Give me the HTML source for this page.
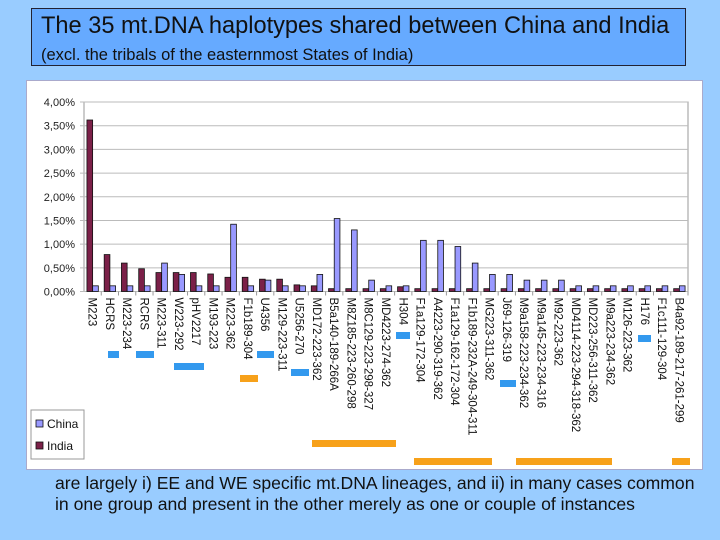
<!DOCTYPE html>
<html><head><meta charset="utf-8">
<style>
body{margin:0;width:720px;height:540px;background:#99CCFF;position:relative;overflow:hidden;font-family:"Liberation Sans",sans-serif}
#title{position:absolute;left:31px;top:8px;width:655px;height:58px;background:#66AAFF;border:1px solid #223;box-sizing:border-box}
#title .t1{position:absolute;left:9px;top:4px;font-size:23.6px;color:#111;white-space:nowrap}
#title .t2{position:absolute;left:9px;top:37px;font-size:16.5px;color:#111;white-space:nowrap}
#chart{position:absolute;left:26px;top:80px;width:675px;height:388px;background:#fff;border:1px solid #aac}
.foot{position:absolute;left:55px;font-size:17.6px;color:#111;white-space:nowrap}
</style></head><body>
<div id="title">
<div class="t1">The 35 mt.DNA haplotypes shared between China and India</div>
<div class="t2">(excl. the tribals of the easternmost States of India)</div>
</div>
<div id="chart"></div>
<svg id="svg" width="720" height="540" style="position:absolute;left:0;top:0"></svg>
<div class="foot" style="top:473px">are largely i) EE and WE specific mt.DNA lineages, and ii) in many cases common</div>
<div class="foot" style="top:494px">in one group and present in the other merely as one or couple of instances</div>
<script>
const categories=["M223","HCRS","M223-234","RCRS","M223-311","W223-292","pHV2217","M193-223","M223-362","F1b189-304","U4356","M129-223-311","U5256-270","MD172-223-362","B5a140-189-266A","M8Z185-223-260-298","M8C129-223-298-327","MD4223-274-362","H304","F1a129-172-304","A4223-290-319-362","F1a129-162-172-304","F1b189-232A-249-304-311","MG223-311-362","J69-126-319","M9a158-223-234-362","M9a145-223-234-316","M92-223-362","MD4114-223-294-318-362","MD223-256-311-362","M9a223-234-362","M126-223-362","H176","F1c111-129-304","B4a92-189-217-261-299"];
const india=[3.62,0.78,0.6,0.48,0.4,0.4,0.4,0.37,0.3,0.3,0.26,0.26,0.14,0.12,0.06,0.06,0.06,0.06,0.1,0.06,0.06,0.06,0.06,0.06,0.06,0.06,0.06,0.06,0.06,0.06,0.06,0.06,0.06,0.06,0.06];
const china=[0.12,0.12,0.12,0.12,0.6,0.36,0.12,0.12,1.42,0.12,0.24,0.12,0.12,0.36,1.54,1.3,0.24,0.12,0.12,1.08,1.08,0.95,0.6,0.36,0.36,0.24,0.24,0.24,0.12,0.12,0.12,0.12,0.12,0.12,0.12];
const ticks=["0,00%","0,50%","1,00%","1,50%","2,00%","2,50%","3,00%","3,50%","4,00%"];
const svg=document.getElementById('svg');const NS='http://www.w3.org/2000/svg';
const X0=84,X1=688,Y0=291.5,Y1=102,MAX=4;
const cw=(X1-X0)/categories.length;
const y=v=>Y0-(v/MAX)*(Y0-Y1);
const xc=i=>X0+cw*(i+0.5);
function mk(t,a,p){const e=document.createElementNS(NS,t);for(const k in a)e.setAttribute(k,a[k]);(p||svg).appendChild(e);return e;}
let e=mk('rect',{x:X0,y:Y1,width:X1-X0,height:Y0-Y1,fill:'none',stroke:'#999','stroke-width':1});


ticks.forEach((t,i)=>{const v=i*0.5,yy=y(v);
 const g=mk('line',{x1:X0-4,x2:X1,y1:yy,y2:yy,stroke:'#bbb','stroke-width':1});
 
 
 const tx=mk('text',{x:X0-9,y:yy+4,'text-anchor':'end','font-size':11,fill:'#222'});tx.textContent=t;
 
 
});
const bw=cw*0.33;
categories.forEach((c,i)=>{
 const xm=xc(i);
 const ri=mk('rect',{x:xm-bw,y:y(india[i]),width:bw,height:Y0-y(india[i]),fill:'#7B2048',stroke:'#111','stroke-width':0.8});
 
 
 const rc=mk('rect',{x:xm,y:y(china[i]),width:bw,height:Y0-y(china[i]),fill:'#9999FF',stroke:'#111','stroke-width':0.8});
 
 
 const tk=mk('line',{x1:X0+cw*(i+1),x2:X0+cw*(i+1),y1:Y0,y2:Y0+4,stroke:'#999'});
 
 
 const tx=mk('text',{x:0,y:0,'font-size':11.5,fill:'#111',transform:`translate(${xm-4},${Y0+6}) rotate(90)`});tx.textContent=c;
 
 
});
const marks=[[108,351,11,'#3399ee'],[136,351,18,'#3399ee'],[174,363,30,'#3399ee'],[240,375,18,'#f7a11a'],[257,351,17,'#3399ee'],[291,369,18,'#3399ee'],[312,440,84,'#f7a11a'],[396,332,14,'#3399ee'],[414,458,78,'#f7a11a'],[500,380,16,'#3399ee'],[516,458,96,'#f7a11a'],[638,335,13,'#3399ee'],[672,458,18,'#f7a11a']];
marks.forEach(m=>{const r=mk('rect',{x:m[0],y:m[1],width:m[2],height:7,fill:m[3]});
 
 });
const lg=mk('rect',{x:31,y:410,width:53,height:49,fill:'#fff',stroke:'#999'});


[['China','#9999FF',424],['India','#7B2048',446]].forEach(l=>{
 const s=mk('rect',{x:36,y:l[2]-4,width:7,height:7,fill:l[1],stroke:'#111','stroke-width':0.8});
 
 
 const t=mk('text',{x:47,y:l[2]+4,'font-size':12,fill:'#111'});t.textContent=l[0];
 
 
});
</script>
</body></html>
